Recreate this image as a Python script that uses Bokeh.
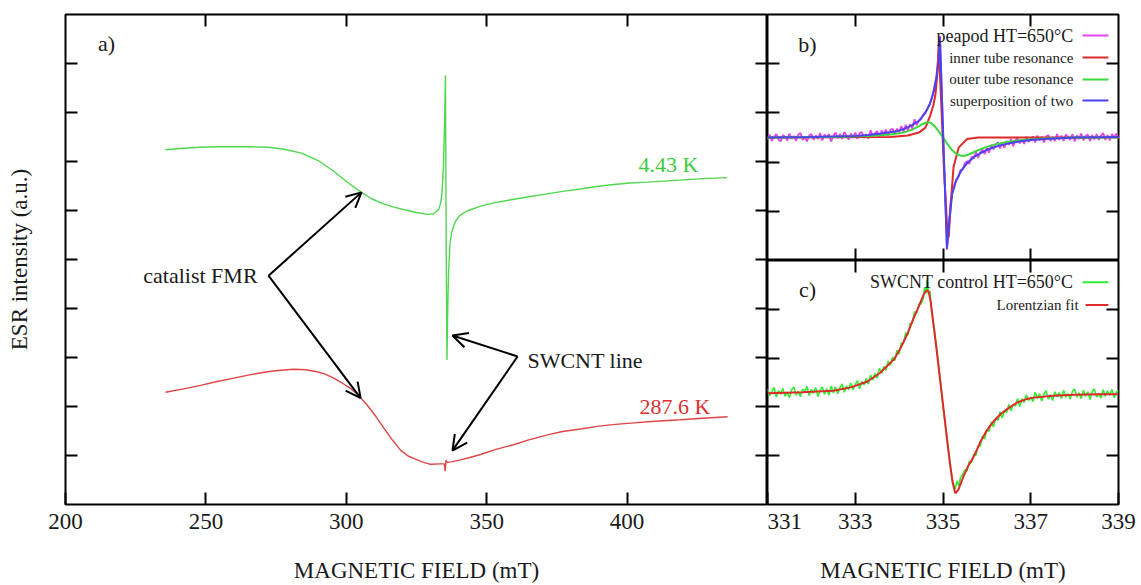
import numpy as np
from bokeh.plotting import figure
from bokeh.layouts import row, column
from bokeh.models import Range1d, LinearAxis, FixedTicker, Label, Arrow, OpenHead
from bokeh.embed import file_html
from bokeh.resources import INLINE

FONT = "Liberation Serif"
TXT = "#1a1a1a"

# ---------------- panel a) data ----------------
a_xticks = [200, 250, 300, 350, 400]
green_a_x = [235.6, 242, 248, 254, 260, 266, 272, 278, 284, 290, 295.5, 301, 305.4, 309, 313, 317, 321, 325,
             328.8, 331.0, 332.9, 333.6, 334.1, 334.6, 335.0, 335.3, 335.45, 335.6, 335.85, 336.1, 336.4, 336.86,
             337.5, 338.9, 340.5, 343, 347.8, 353, 359.7, 365, 371.5, 377, 383.4, 389, 395.3, 401, 407.2, 413,
             419, 427, 435.6]
green_a_y = [7.24, 7.27, 7.29, 7.30, 7.30, 7.30, 7.29, 7.25, 7.17, 7.02, 6.80, 6.55, 6.37, 6.24, 6.14, 6.07, 6.01,
             5.96, 5.92, 5.93, 6.02, 6.15, 6.37, 6.90, 7.80, 8.76, 7.00, 5.00, 2.95, 3.90, 4.70, 5.28, 5.55, 5.78,
             5.90, 5.99, 6.09, 6.16, 6.23, 6.28, 6.34, 6.39, 6.44, 6.49, 6.53, 6.56, 6.58, 6.60, 6.62, 6.65, 6.67]
red_a_x = [235.6, 242, 248.1, 254, 259.9, 266, 271.8, 276.5, 281.3, 285.5, 289.6, 292.5, 295.5, 298.5, 301.5,
           304.5, 307.4, 310.5, 313.4, 316.5, 319.3, 322, 324, 327, 330, 333.5, 334.9, 335.2, 335.5, 336.0, 337.5,
           340.7, 344, 347.8, 353, 359.5, 365, 371.7, 377, 383.4, 390, 395, 401.2, 410, 419, 427, 435.8]
red_a_y = [2.29, 2.36, 2.43, 2.51, 2.58, 2.65, 2.71, 2.74, 2.76, 2.75, 2.71, 2.66, 2.58, 2.48, 2.37, 2.22, 2.03,
           1.80, 1.56, 1.31, 1.11, 0.99, 0.94, 0.87, 0.82, 0.83, 0.83, 0.68, 0.90, 0.86, 0.87, 0.91, 0.96, 1.02,
           1.12, 1.22, 1.32, 1.42, 1.49, 1.54, 1.60, 1.63, 1.66, 1.70, 1.73, 1.76, 1.79]

# ---------------- panel b) data ----------------
bc_xticks = [331, 333, 335, 337, 339]
peapod_left_y = [2.45, 2.56, 2.43, 2.52, 2.57, 2.46, 2.42, 2.55, 2.51, 2.44, 2.58, 2.47, 2.53, 2.43, 2.56, 2.59,
                 2.45, 2.50, 2.42, 2.54, 2.57, 2.45, 2.54, 2.47, 2.59, 2.44, 2.56, 2.50, 2.57, 2.42, 2.53, 2.60,
                 2.48, 2.57, 2.47, 2.61, 2.54, 2.46, 2.58, 2.51, 2.60, 2.47, 2.59, 2.61, 2.49, 2.57, 2.48, 2.65,
                 2.53, 2.59, 2.63, 2.51, 2.64, 2.58, 2.66, 2.53, 2.65, 2.68, 2.56, 2.68, 2.59, 2.73, 2.61, 2.76,
                 2.64, 2.77, 2.68, 2.87, 2.75, 2.84, 2.87]
peapod_mid_x = [334.55, 334.60, 334.65, 334.70, 334.75, 334.80, 334.85, 334.88, 334.91, 334.93, 334.97, 335.01,
                335.05, 335.09, 335.12, 335.15, 335.18, 335.21, 335.25, 335.30, 335.35, 335.40, 335.45, 335.50]
peapod_mid_y = [2.97, 3.02, 3.10, 3.18, 3.32, 3.52, 3.76, 4.00, 4.35, 4.56, 3.50, 2.40, 1.30, 0.22, 0.55, 0.92,
                1.20, 1.38, 1.50, 1.64, 1.70, 1.84, 1.86, 1.98]
peapod_right_y = [2.02, 1.96, 2.11, 2.07, 2.20, 2.09, 2.20, 2.26, 2.16, 2.29, 2.19, 2.35, 2.26, 2.36, 2.40, 2.28,
                  2.38, 2.29, 2.43, 2.35, 2.47, 2.32, 2.45, 2.48, 2.38, 2.46, 2.37, 2.52, 2.41, 2.47, 2.52, 2.40,
                  2.54, 2.44, 2.52, 2.40, 2.52, 2.55, 2.43, 2.51, 2.43, 2.57, 2.45, 2.54, 2.43, 2.56, 2.51, 2.45,
                  2.57, 2.42, 2.54, 2.47, 2.58, 2.44, 2.53, 2.56, 2.43, 2.55, 2.46, 2.57, 2.45, 2.54, 2.59, 2.45,
                  2.55, 2.44, 2.57, 2.50, 2.58, 2.47]
inner_x = [331.0, 333.8, 334.2, 334.45, 334.6, 334.71, 334.78, 334.83, 334.87, 334.9, 334.95, 335.02, 335.1,
           335.13, 335.17, 335.24, 335.36, 335.55, 335.8, 339.0]
inner_y = [2.50, 2.51, 2.54, 2.60, 2.70, 2.95, 3.15, 3.39, 3.79, 4.37, 3.40, 1.90, 0.60, 0.47, 1.08, 1.90, 2.30,
           2.47, 2.50, 2.50]
outer_x = [331.0, 332.5, 333.3, 333.8, 334.1, 334.3, 334.45, 334.55, 334.64, 334.72, 334.8, 334.9, 335.0, 335.1,
           335.2, 335.3, 335.4, 335.5, 335.6, 335.75, 335.9, 336.1, 336.4, 336.8, 337.3, 338.0, 339.0]
outer_y = [2.50, 2.51, 2.53, 2.56, 2.60, 2.66, 2.73, 2.78, 2.81, 2.80, 2.74, 2.63, 2.50, 2.37, 2.25, 2.17, 2.13,
           2.13, 2.16, 2.22, 2.28, 2.34, 2.40, 2.45, 2.48, 2.50, 2.50]
super_x = [331.0, 332.0, 332.5, 333.0, 333.3, 333.6, 333.9, 334.1, 334.3, 334.45, 334.6, 334.7, 334.78, 334.85,
           334.9, 334.93, 335.01, 335.09, 335.15, 335.21, 335.3, 335.4, 335.55, 335.7, 335.85, 336.0, 336.3,
           336.6, 337.0, 337.5, 338.0, 339.0]
super_y = [2.50, 2.51, 2.52, 2.53, 2.55, 2.58, 2.62, 2.67, 2.75, 2.84, 3.00, 3.18, 3.40, 3.70, 4.05, 4.54, 2.40,
           0.24, 0.85, 1.36, 1.62, 1.80, 1.98, 2.10, 2.18, 2.25, 2.34, 2.40, 2.45, 2.48, 2.50, 2.51]

# ---------------- panel c) data ----------------
swcnt_left_y = [2.37, 2.23, 2.31, 2.40, 2.20, 2.33, 2.26, 2.38, 2.22, 2.30, 2.19, 2.35, 2.41, 2.24, 2.32, 2.21,
                2.36, 2.30, 2.42, 2.23, 2.36, 2.28, 2.40, 2.21, 2.34, 2.41, 2.26, 2.37, 2.24, 2.43, 2.29, 2.41,
                2.27, 2.39, 2.47, 2.30, 2.43, 2.35, 2.49, 2.35, 2.45, 2.54, 2.37, 2.52, 2.45, 2.58, 2.47, 2.65,
                2.55, 2.69, 2.59, 2.79, 2.69, 2.83, 2.75, 2.94, 2.85, 3.02, 2.95, 3.16, 3.08, 3.31, 3.30, 3.52,
                3.47, 3.71, 3.71, 3.95, 3.92, 4.11, 4.11]
swcnt_mid_x = [334.55, 334.58, 334.61, 334.64, 334.67, 334.70, 334.74, 334.80, 334.85, 334.90, 334.95, 335.00,
               335.05, 335.10, 335.15, 335.20, 335.24, 335.28, 335.32, 335.36, 335.40, 335.45]
swcnt_mid_y = [4.22, 4.45, 4.32, 4.60, 4.30, 4.38, 3.95, 3.60, 3.25, 2.85, 2.45, 2.00, 1.65, 1.25, 0.95, 0.55,
               0.42, 0.32, 0.48, 0.38, 0.55, 0.62]
swcnt_right_y = [0.71, 0.69, 0.89, 0.86, 1.03, 1.01, 1.20, 1.19, 1.40, 1.34, 1.53, 1.50, 1.69, 1.59, 1.77, 1.72,
                 1.90, 1.77, 1.93, 1.88, 2.05, 1.92, 2.05, 2.02, 2.17, 2.01, 2.17, 2.09, 2.25, 2.13, 2.20, 2.11,
                 2.30, 2.17, 2.27, 2.12, 2.26, 2.33, 2.16, 2.25, 2.13, 2.31, 2.21, 2.29, 2.17, 2.34, 2.20, 2.27,
                 2.16, 2.32, 2.37, 2.20, 2.29, 2.17, 2.34, 2.22, 2.31, 2.15, 2.31, 2.37, 2.20, 2.28, 2.18, 2.35,
                 2.22, 2.33, 2.24, 2.36, 2.19, 2.30, 2.34]
lor_x = [331.0, 331.8, 332.5, 332.9, 333.28, 333.57, 333.89, 334.03, 334.2, 334.33, 334.45, 334.52, 334.58,
         334.64, 334.68, 334.72, 334.85, 335.0, 335.15, 335.22, 335.28, 335.35, 335.47, 335.58, 335.7, 335.85,
         336.0, 336.15, 336.31, 336.5, 336.69, 336.9, 337.07, 337.5, 338.0, 338.59, 339.0]
lor_y = [2.28, 2.30, 2.33, 2.40, 2.52, 2.70, 2.98, 3.20, 3.52, 3.82, 4.06, 4.22, 4.34, 4.39, 4.35, 4.15, 3.20,
         2.05, 0.90, 0.45, 0.23, 0.30, 0.58, 0.80, 0.98, 1.28, 1.52, 1.70, 1.85, 1.98, 2.09, 2.16, 2.19, 2.23,
         2.25, 2.26, 2.26]

# sampling grid of the noisy spectra (0.05 mT steps)
peapod_x = list(np.round(331.0 + 0.05 * np.arange(len(peapod_left_y)), 3)) + peapod_mid_x + \
    list(np.round(335.55 + 0.05 * np.arange(len(peapod_right_y)), 3))
peapod_y = peapod_left_y + peapod_mid_y + peapod_right_y
swcnt_x = list(np.round(331.0 + 0.05 * np.arange(len(swcnt_left_y)), 3)) + swcnt_mid_x + \
    list(np.round(335.50 + 0.05 * np.arange(len(swcnt_right_y)), 3))
swcnt_y = swcnt_left_y + swcnt_mid_y + swcnt_right_y

GREEN_A = "#4fd84f"
RED_A = "#e04545"
MAGENTA = "#e444ee"
RED = "#e02a2a"
GREEN = "#3ed83e"
BLUE = "#4a44ec"
GREEN_C = "#33ee33"


def make_fig(w, h, xr, yr, bl, br, bt, bb):
    p = figure(width=w, height=h, x_range=Range1d(*xr), y_range=Range1d(*yr),
               output_backend="svg", toolbar_location=None,
               x_axis_location=None, y_axis_location=None,
               min_border_left=bl, min_border_right=br, min_border_top=bt, min_border_bottom=bb)
    p.grid.visible = False
    p.outline_line_color = "black"
    p.outline_line_width = 2
    p.background_fill_color = "white"
    p.border_fill_color = "white"
    return p


def add_axis(p, loc, ticks, labels=False, label_text=None):
    ax = LinearAxis(ticker=FixedTicker(ticks=ticks, minor_ticks=[]))
    ax.axis_line_color = None
    ax.major_tick_in = 12
    ax.major_tick_out = 0
    ax.minor_tick_line_color = None
    ax.major_tick_line_color = "black"
    ax.major_tick_line_width = 2
    if labels:
        ax.major_label_text_font = FONT
        ax.major_label_text_font_size = "23px"
        ax.major_label_text_color = TXT
        ax.major_label_standoff = 9
    else:
        ax.major_label_text_font_size = "0px"
        ax.major_label_text_color = None
        ax.major_label_standoff = 0
    if label_text:
        ax.axis_label = label_text
        ax.axis_label_text_font = FONT
        ax.axis_label_text_font_style = "normal"
        ax.axis_label_text_font_size = "23px"
        ax.axis_label_text_color = TXT
        ax.axis_label_standoff = 26 if loc == "below" else 34
    p.add_layout(ax, loc)
    return ax


def label(p, x, y, text, size="22px", color=TXT, align="left"):
    p.add_layout(Label(x=x, y=y, text=text, text_font=FONT, text_font_size=size, text_color=color,
                       text_align=align, text_baseline="middle"))


# ---------------- panel a ----------------
pa = make_fig(767, 585, (200, 450), (0, 10), 65, 0, 14, 78)
add_axis(pa, "below", a_xticks, labels=True, label_text="MAGNETIC FIELD (mT)")
add_axis(pa, "above", a_xticks[1:])
add_axis(pa, "left", list(range(1, 10)), label_text="ESR intensity (a.u.)")
add_axis(pa, "right", list(range(1, 10)))
pa.line(green_a_x, green_a_y, line_color=GREEN_A, line_width=1.4)
pa.line(red_a_x, red_a_y, line_color=RED_A, line_width=1.4)
label(pa, 214.6, 9.41, "a)", align="center")
label(pa, 425.4, 6.94, "4.43 K", color="#3ccc3c", align="right")
label(pa, 429.7, 2.01, "287.6 K", color="#dd3030", align="right")
label(pa, 268.4, 4.67, "catalist FMR", align="right")
label(pa, 364.5, 2.94, "SWCNT line", align="left")
for (xs, ys, xe, ye) in [(272.3, 4.67, 305.4, 6.37), (272.3, 4.67, 305.1, 2.17),
                         (361.0, 3.02, 337.8, 3.45), (361.0, 3.02, 337.8, 1.10)]:
    pa.add_layout(Arrow(end=OpenHead(size=15, line_width=2, line_color="black"),
                        x_start=xs, y_start=ys, x_end=xe, y_end=ye, line_width=2, line_color="black"))

# ---------------- panel b ----------------
pb = make_fig(374, 260, (331, 339), (0, 5), 0, 23, 14, 0)
add_axis(pb, "below", bc_xticks[1:-1])
add_axis(pb, "above", bc_xticks[1:-1])
add_axis(pb, "left", [1, 2, 3, 4])
add_axis(pb, "right", [1, 2, 3, 4])
pb.line(peapod_x, peapod_y, line_color=MAGENTA, line_width=1.8)
pb.line(inner_x, inner_y, line_color=RED, line_width=2)
pb.line(outer_x, outer_y, line_color=GREEN, line_width=2)
pb.line(super_x, super_y, line_color=BLUE, line_width=2)
label(pb, 331.91, 4.39, "b)", align="center")
leg_b = [("peapod HT=650°C", MAGENTA, 4.573, "18px"), ("inner tube resonance", RED, 4.126, "15px"),
         ("outer tube resonance", GREEN, 3.679, "15px"), ("superposition of two", BLUE, 3.252, "15px")]
for t, c, yy, fs in leg_b:
    label(pb, 337.97, yy, t, size=fs, align="right")
    pb.segment(x0=[338.18], x1=[338.77], y0=[yy], y1=[yy], line_color=c, line_width=2)

# ---------------- panel c ----------------
pc = make_fig(374, 325, (331, 339), (0, 5), 0, 23, 0, 78)
add_axis(pc, "below", bc_xticks, labels=True, label_text="MAGNETIC FIELD (mT)")
add_axis(pc, "above", bc_xticks[1:-1])
add_axis(pc, "left", [1, 2, 3, 4])
add_axis(pc, "right", [1, 2, 3, 4])
pc.line(swcnt_x, swcnt_y, line_color=GREEN_C, line_width=1.6)
pc.line(lor_x, lor_y, line_color=RED, line_width=2)
label(pc, 331.91, 4.41, "c)", align="center")
label(pc, 337.97, 4.555, "SWCNT control HT=650°C", size="18px", align="right")
pc.segment(x0=[338.18], x1=[338.77], y0=[4.555], y1=[4.555], line_color=GREEN_C, line_width=2)
label(pc, 338.09, 4.09, "Lorentzian fit", size="15px", align="right")
pc.segment(x0=[338.25], x1=[338.77], y0=[4.09], y1=[4.09], line_color=RED, line_width=2)

layout = row(pa, column(pb, pc))
open("out.html", "w").write(file_html(layout, INLINE))
